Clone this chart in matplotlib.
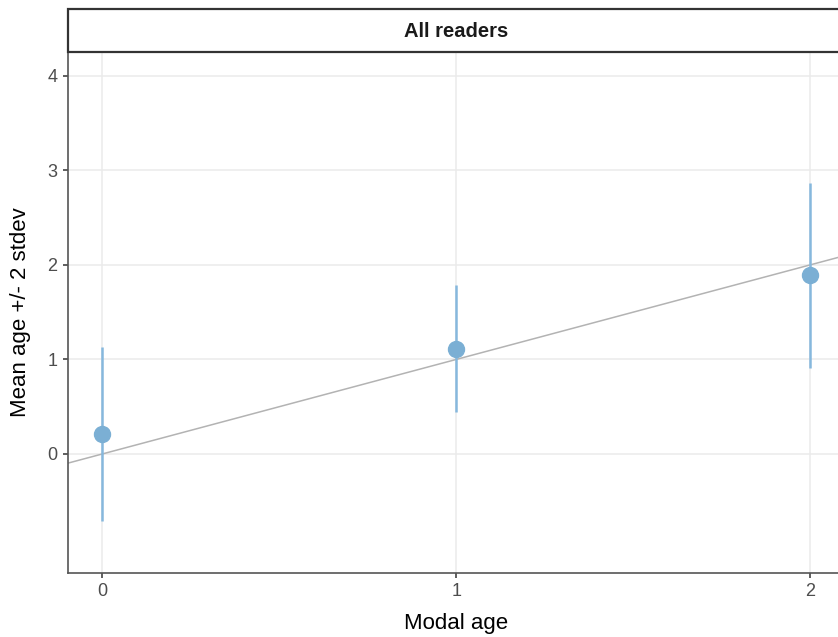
import matplotlib
matplotlib.use("Agg")
import matplotlib.pyplot as plt
from matplotlib.patches import Rectangle

plt.rcParams["font.family"] = ["Liberation Sans", "DejaVu Sans"]

# values
modal_age = [0, 1, 2]
mean_age = [0.21, 1.115, 1.89]
two_sd = [0.925, 0.675, 0.98]
y_breaks = [0, 1, 2, 3, 4]
strip_title = "All readers"

fig = plt.figure(figsize=(8.38, 6.37), dpi=100)
# panel runs a bit past the right edge, as in the reference
ax = fig.add_axes([0.0811, 0.1005, 0.9266, 0.8179])

ax.set_xlim(-0.0975, 2.0975)
ax.set_ylim(-1.26, 4.254)

ax.set_xticks(modal_age)
ax.set_yticks(y_breaks)
ax.grid(True, color="#EBEBEB", linewidth=1.1)
ax.set_axisbelow(True)

# identity line
ax.axline((0, 0), slope=1, color="#B3B3B3", linewidth=1.1, zorder=2)

ax.vlines(modal_age, [m - s for m, s in zip(mean_age, two_sd)],
          [m + s for m, s in zip(mean_age, two_sd)],
          color="#86B8DD", linewidth=1.8, zorder=3)
ax.plot(modal_age, mean_age, "o", color="#7BAFD4", markersize=11.5, zorder=4)

for side in ["top", "right"]:
    ax.spines[side].set_visible(False)
for side in ["left", "bottom"]:
    ax.spines[side].set_color("#555555")
    ax.spines[side].set_linewidth(1.2)

ax.tick_params(colors="#333333", labelcolor="#4D4D4D", labelsize=13, length=3.5, width=1.1, pad=4)
ax.set_xlabel("Modal age", fontsize=16, color="black", labelpad=9)
ax.set_ylabel("Mean age +/- 2 stdev", fontsize=16, color="black", labelpad=12)

# facet strip
strip = Rectangle((0.0811, 0.9184), 0.9266, 0.0675, transform=fig.transFigure,
                  facecolor="white", edgecolor="#333333", linewidth=1.6)
fig.patches.append(strip)
fig.text(0.0811 + 0.9266 / 2, 0.9184 + 0.0675 / 2 - 0.002, strip_title, ha="center", va="center",
         fontsize=14.5, fontweight="bold", color="#1A1A1A")

fig.savefig("out.png", dpi=100)
